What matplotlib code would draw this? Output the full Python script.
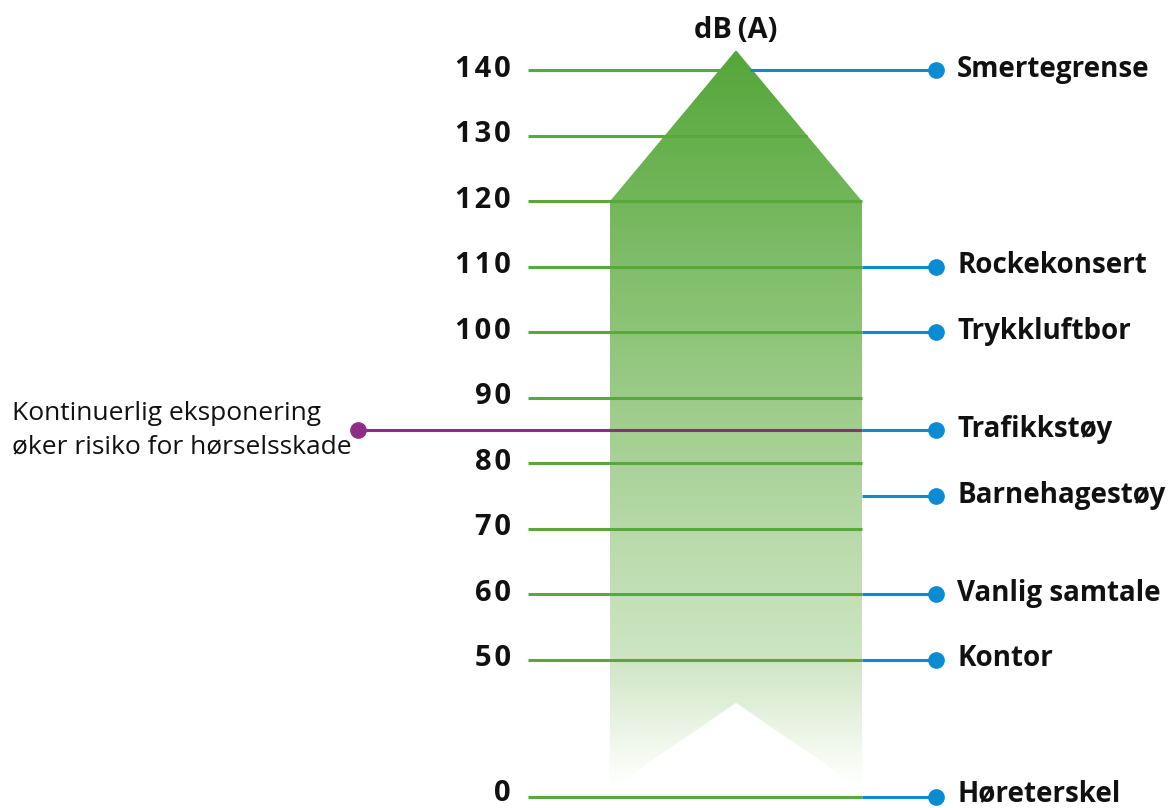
import numpy as np
import matplotlib.pyplot as plt
from matplotlib.patches import Polygon
from matplotlib.colors import LinearSegmentedColormap

# scale ticks (dB)
tick_vals = [0, 50, 60, 70, 80, 90, 100, 110, 120, 130, 140]

# sound sources and their level
source_names = ["Smertegrense", "Rockekonsert", "Trykkluftbor", "Trafikkstøy",
                "Barnehagestøy", "Vanlig samtale", "Kontor", "Høreterskel"]
source_levels = [140, 110, 100, 85, 75, 60, 50, 0]

# risk threshold
risk_level = 85
risk_text = "Kontinuerlig eksponering\nøker risiko for hørselsskade"

GREEN = "#58a83c"
BLUE = "#0a8bd2"
PURPLE = "#8e2d85"
BREAK = 50
SQUEEZE = 0.418  # 0..50 dB drawn compressed


def fwd(v):
    v = np.asarray(v, dtype=float)
    return np.where(v >= BREAK, v, BREAK - (BREAK - v) * SQUEEZE)


def inv(s):
    s = np.asarray(s, dtype=float)
    return np.where(s >= BREAK, s, BREAK - (BREAK - s) / SQUEEZE)


fig = plt.figure(figsize=(11.71, 8.08), dpi=100)
ax = fig.add_axes([0, 0, 1, 1])
ax.set_yscale("function", functions=(fwd, inv))
ax.set_xlim(0, 1171)
ax.set_ylim(-4.1, 150.7)
ax.axis("off")

plt.rcParams['font.family'] = ['Open Sans', 'DejaVu Sans']

# arrow geometry
x_left, x_mid, x_right = 610, 736, 862
shoulder, tip = 120, 143.05
notch_top, bottom = 34.3, 2.8
arrow_pts = [(x_left, bottom), (x_left, shoulder), (x_mid, tip), (x_right, shoulder),
             (x_right, bottom), (x_mid, notch_top)]
arrow = Polygon(arrow_pts, closed=True, facecolor="none", edgecolor="none")
ax.add_patch(arrow)

cmap = LinearSegmentedColormap.from_list(
    "g", [(0.0, "#ffffff"), (0.08, "#f6faf3"), (0.45, "#bcdcae"),
          (0.80, "#7aba62"), (1.0, "#55a63a")])
grad = np.linspace(0, 1, 400).reshape(-1, 1)
img = ax.imshow(grad, cmap=cmap, origin="lower", aspect="auto",
                extent=[x_left, x_right, bottom, tip], zorder=1)
img.set_clip_path(arrow)
ax.set_xlim(0, 1171)
ax.set_ylim(-4.1, 150.7)


def arrow_right_edge(level):
    if level <= shoulder:
        return x_right
    frac = (tip - level) / (tip - shoulder)
    return x_mid + frac * (x_right - x_mid)


def nudge(level):
    # keep bottom-row texts inside the canvas
    return level + (1.2 if level == 0 else 0.15)


# tick lines and labels
for v in tick_vals:
    ax.plot([528, arrow_right_edge(v)], [v, v], color=GREEN, lw=2.2,
            solid_capstyle="butt", zorder=2)
    ax.text(511, nudge(v), "\u200a".join(str(v)), ha="right",
            va="center", fontsize=21, fontweight="bold", color="#111111")

ax.text(x_mid, 146.0, "dB\u2009(A)", ha="center", va="center", fontsize=21,
        fontweight="bold", color="#111111")

# sources
for name, lvl in zip(source_names, source_levels):
    x0 = arrow_right_edge(lvl)
    if lvl == 140:
        x0 = 750
    ax.plot([x0, 936], [lvl, lvl], color=BLUE, lw=2.2, solid_capstyle="butt", zorder=2)
    ax.plot(936, lvl, "o", color=BLUE, ms=11, zorder=3)
    ax.text(957, nudge(lvl), name, ha="left", va="center", fontsize=20,
            fontweight="bold", color="#111111")

# risk line
ax.plot([358, x_right], [risk_level, risk_level], color=PURPLE, lw=2.2,
        solid_capstyle="butt", zorder=2.5)
ax.plot(358, risk_level, "o", color=PURPLE, ms=11, zorder=3)
ax.text(12, risk_level, risk_text, ha="left", va="center", fontsize=19,
        color="#111111", linespacing=1.45)

fig.savefig("out.png", dpi=100)
